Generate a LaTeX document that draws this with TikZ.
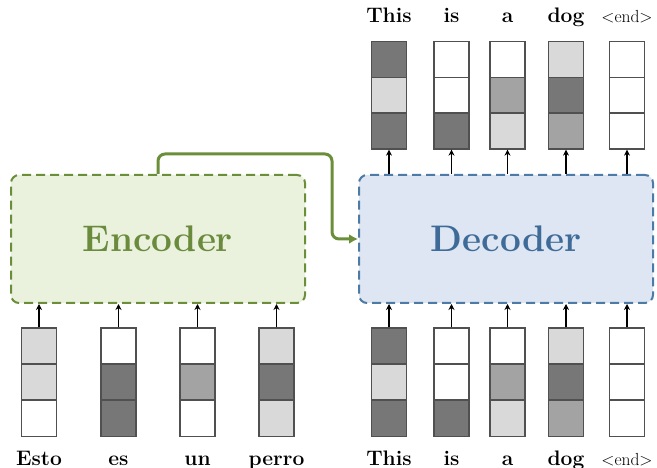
\documentclass[tikz,border=0pt]{standalone}
\usetikzlibrary{arrows.meta}
\definecolor{dk}{HTML}{777777}
\definecolor{md}{HTML}{A3A3A3}
\definecolor{lg}{HTML}{D9D9D9}
\definecolor{cellline}{HTML}{505050}
\definecolor{encline}{HTML}{6B8E3A}
\definecolor{enctext}{HTML}{6A8A3C}
\definecolor{encfill}{HTML}{EAF2DE}
\definecolor{decline}{HTML}{4E7AA6}
\definecolor{dectext}{HTML}{3E6B98}
\definecolor{decfill}{HTML}{DDE6F2}
\tikzset{
  cell/.style={draw=cellline, line width=1.3pt, minimum width=35pt, minimum height=36pt, inner sep=0pt},
  bigbox/.style={line width=2pt, dash pattern=on 9pt off 5pt, rounded corners=8pt, minimum width=294pt, minimum height=128pt, inner sep=0pt, font=\fontsize{37}{40}\selectfont\bfseries},
  uparrow/.style={line width=1.8pt, -{Stealth[length=6pt,width=6pt]}},
  word/.style={anchor=base, font=\fontsize{21}{24}\selectfont\bfseries, inner sep=0pt},
  endword/.style={anchor=base, font=\fontsize{17.5}{20}\selectfont, inner sep=0pt},
  flow/.style={draw=encline, line width=3pt, rounded corners=7pt, -{Latex[length=9pt,width=10pt]}}
}
\begin{document}
\begin{tikzpicture}[x=1pt,y=1pt]
\useasboundingbox (0,0) rectangle (657,-468);
% boxes
\node[bigbox, draw=encline, fill=encfill, text=enctext] (enc) at (158,-239) {Encoder};
\node[bigbox, draw=decline, fill=decfill, text=dectext] (dec) at (506,-239) {Decoder};
% encoder input cells
\foreach \x/\n/\a/\b/\c/\w in {39/e1/lg/lg/white/Esto, 118.5/e2/white/dk/dk/es, 197.5/e3/white/md/white/un, 276.5/e4/lg/dk/lg/perro} {
  \node[cell, fill=\a] (\n a) at (\x,-346) {};
  \node[cell, fill=\b] (\n b) at (\x,-382) {};
  \node[cell, fill=\c] (\n c) at (\x,-418.5) {};
  \node[word] (\n w) at (\x,-465) {\w};
  \draw[uparrow] (\n a.north) -- (\n a.north |- enc.south);
}
% decoder input cells
\foreach \x/\n/\a/\b/\c in {389/d1/dk/lg/dk, 451.5/d2/white/white/dk, 507.5/d3/white/md/lg, 566/d4/lg/dk/md, 627/d5/white/white/white} {
  \node[cell, fill=\a] (\n a) at (\x,-346) {};
  \node[cell, fill=\b] (\n b) at (\x,-382) {};
  \node[cell, fill=\c] (\n c) at (\x,-418.5) {};
  \draw[uparrow] (\n a.north) -- (\n a.north |- dec.south);
}
% decoder output cells
\foreach \x/\n/\a/\b/\c in {389/o1/dk/lg/dk, 451.5/o2/white/white/dk, 507.5/o3/white/md/lg, 566/o4/lg/dk/md, 627/o5/white/white/white} {
  \node[cell, fill=\a] (\n a) at (\x,-59.5) {};
  \node[cell, fill=\b] (\n b) at (\x,-95.5) {};
  \node[cell, fill=\c] (\n c) at (\x,-131) {};
  \draw[uparrow] (\n c.south |- dec.north) -- (\n c.south);
}
% labels
\node[word] (d1w) at (389,-465) {This};
\node[word] (d2w) at (451.5,-465) {is};
\node[word] (d3w) at (507.5,-465) {a};
\node[word] (d4w) at (566,-465) {dog};
\node[endword] (d5w) at (627,-465) {$<$end$>$};
\node[word] (o1w) at (389,-23) {This};
\node[word] (o2w) at (451.5,-23) {is};
\node[word] (o3w) at (507.5,-23) {a};
\node[word] (o4w) at (566,-23) {dog};
\node[endword] (o5w) at (627,-23) {$<$end$>$};
% context arrow
\draw[flow] (enc.north) |- (332,-154) |- (dec.west);
\end{tikzpicture}
\end{document}
